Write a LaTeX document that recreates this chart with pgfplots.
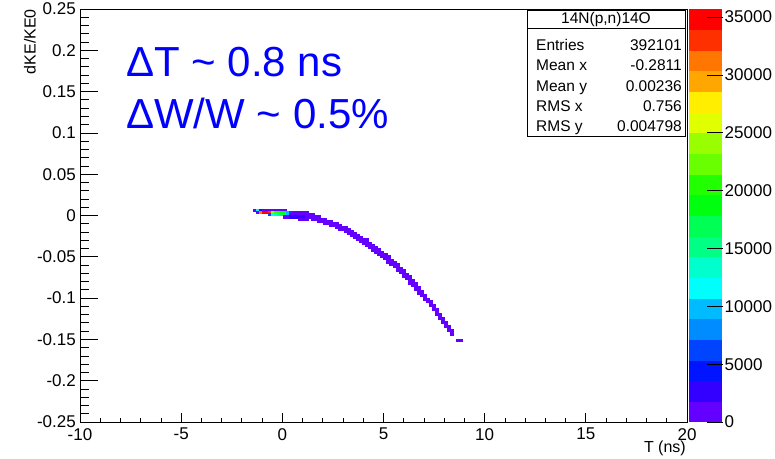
\documentclass[border=0pt]{standalone}
\usepackage{fontspec}
\setmainfont{Liberation Sans}
\usepackage{pgfplots}
\pgfplotsset{compat=1.18}

% ROOT pretty palette, 20 contours: hue = 280 - 5.6*(n+1), S=1, L=0.5
\definecolor{p0}{Hsb}{263.2,1,1}
\definecolor{p1}{Hsb}{252,1,1}
\definecolor{p2}{Hsb}{235.2,1,1}
\definecolor{p3}{Hsb}{224,1,1}
\definecolor{p4}{Hsb}{207.2,1,1}
\definecolor{p5}{Hsb}{196,1,1}
\definecolor{p6}{Hsb}{179.2,1,1}
\definecolor{p7}{Hsb}{168,1,1}
\definecolor{p8}{Hsb}{151.2,1,1}
\definecolor{p9}{Hsb}{140,1,1}
\definecolor{p10}{Hsb}{123.2,1,1}
\definecolor{p11}{Hsb}{112,1,1}
\definecolor{p12}{Hsb}{95.2,1,1}
\definecolor{p13}{Hsb}{84,1,1}
\definecolor{p14}{Hsb}{67.2,1,1}
\definecolor{p15}{Hsb}{56,1,1}
\definecolor{p16}{Hsb}{39.2,1,1}
\definecolor{p17}{Hsb}{28,1,1}
\definecolor{p18}{Hsb}{11.2,1,1}
\definecolor{p19}{Hsb}{0,1,1}

\pgfplotsset{
  rootaxis/.style={
    scale only axis, width=607pt, height=413pt,
    at={(80pt,36pt)}, anchor=south west,
    xmin=-10, xmax=20, ymin=-0.25, ymax=0.25,
    tick align=inside,
    /pgf/number format/assume math mode=true,
    ticklabel style={font=\fontsize{17}{20}\selectfont},
    every tick/.style={black, line width=0.8pt},
  },
}

\begin{document}
\begin{tikzpicture}
\useasboundingbox (0,0) rectangle (775pt,458pt);

\begin{axis}[rootaxis,
    axis line style={black, line width=0.9pt},
    xtick={-10,-5,0,5,10,15,20},
    xtick style={draw=none},
    xticklabel style={anchor=north, inner sep=0pt, yshift=-6pt},
    ytick={-0.25,-0.2,-0.15,-0.1,-0.05,0,0.05,0.1,0.15,0.2,0.25},
    minor y tick num=4,
    ytick pos=left,
    major tick length=18pt, minor tick length=9pt,
    scaled y ticks=false,
    yticklabel style={anchor=east, inner sep=0pt, xshift=-4pt,
      /pgf/number format/fixed, /pgf/number format/precision=2},
    colormap={rootpal}{color(0)=(p0) color(1)=(p1) color(2)=(p2) color(3)=(p3)
      color(4)=(p4) color(5)=(p5) color(6)=(p6) color(7)=(p7) color(8)=(p8)
      color(9)=(p9) color(10)=(p10) color(11)=(p11) color(12)=(p12)
      color(13)=(p13) color(14)=(p14) color(15)=(p15) color(16)=(p16)
      color(17)=(p17) color(18)=(p18) color(19)=(p19) color(20)=(p19)},
    colormap access=piecewise constant,
    point meta min=0, point meta max=35700,
    colorbar,
    colorbar shift/.style={xshift=1.5pt},
    colorbar style={
      at={(parent axis.north east)}, anchor=north west,
      scale only axis, width=34pt, height=413pt,
      axis line style={draw=none},
      ytick={0,5000,10000,15000,20000,25000,30000,35000},
      ytick pos=right, yticklabel pos=right, tick align=inside,
      major tick length=16pt,
      every tick/.style={black, line width=0.8pt},
      scaled y ticks=false,
      /pgf/number format/assume math mode=true,
      yticklabel style={anchor=west, inner sep=0pt, xshift=2pt,
        font=\fontsize{17}{20}\selectfont,
        /pgf/number format/fixed, /pgf/number format/precision=0,
        /pgf/number format/1000 sep={}},
    },
  ]
  \addplot[scatter, only marks, point meta=explicit,
    mark=square*, mark size=1.55pt,
    mark options={yscale=0.667},
    scatter/use mapped color={draw=mapped color, fill=mapped color, line width=0.1pt}]
  table[row sep=\\, x=x, y=y, meta=c] {
x y c\\
-1.375 0.00625 900\\
-1.225 0.00625 11610\\ -1.225 0.00375 900\\
-1.075 0.00625 4470\\ -1.075 0.00375 31245\\
-0.925 0.00625 900\\ -0.925 0.00375 35600\\
-0.775 0.00625 900\\ -0.775 0.00375 34815\\
-0.625 0.00625 900\\ -0.625 0.00375 33030\\ -0.625 0.00125 6255\\
-0.475 0.00625 900\\ -0.475 0.00375 24105\\ -0.475 0.00125 11610\\
-0.325 0.00625 900\\ -0.325 0.00375 20535\\ -0.325 0.00125 13395\\
-0.175 0.00625 900\\ -0.175 0.00375 20535\\ -0.175 0.00125 15180\\
-0.025 0.00625 900\\ -0.025 0.00375 18750\\ -0.025 0.00125 16965\\
0.125 0.00625 900\\ 0.125 0.00375 18750\\ 0.125 0.00125 16965\\ 0.125 -0.00125 900\\
0.275 0.00375 9825\\ 0.275 0.00125 9825\\ 0.275 -0.00125 900\\
0.425 0.00375 6255\\ 0.425 0.00125 900\\ 0.425 -0.00125 2685\\
0.575 0.00375 900\\ 0.575 0.00125 900\\ 0.575 -0.00125 2685\\
0.725 0.00375 900\\ 0.725 0.00125 900\\ 0.725 -0.00125 2685\\
0.875 0.00375 900\\ 0.875 0.00125 900\\ 0.875 -0.00125 2685\\ 0.875 -0.00375 900\\
1.025 0.00375 900\\ 1.025 0.00125 900\\ 1.025 -0.00125 2685\\ 1.025 -0.00375 900\\
1.175 0.00375 900\\ 1.175 0.00125 900\\ 1.175 -0.00125 900\\ 1.175 -0.00375 900\\
1.325 0.00125 900\\ 1.325 -0.00125 900\\
1.475 0.00125 900\\ 1.475 -0.00125 900\\ 1.475 -0.00375 900\\
1.625 -0.00125 900\\ 1.625 -0.00375 900\\
1.775 -0.00125 900\\ 1.775 -0.00375 900\\ 1.775 -0.00625 900\\
1.925 -0.00375 900\\ 1.925 -0.00625 900\\
2.075 -0.00375 900\\ 2.075 -0.00625 900\\ 2.075 -0.00875 900\\
2.225 -0.00625 900\\ 2.225 -0.00875 900\\
2.375 -0.00625 900\\ 2.375 -0.00875 900\\ 2.375 -0.01125 900\\
2.525 -0.00875 900\\ 2.525 -0.01125 900\\
2.675 -0.00875 900\\ 2.675 -0.01125 900\\ 2.675 -0.01375 900\\
2.825 -0.01125 900\\ 2.825 -0.01375 900\\ 2.825 -0.01625 900\\
2.975 -0.01375 900\\ 2.975 -0.01625 900\\
3.125 -0.01375 900\\ 3.125 -0.01625 900\\ 3.125 -0.01875 900\\
3.275 -0.01625 900\\ 3.275 -0.01875 900\\ 3.275 -0.02125 900\\
3.425 -0.01875 900\\ 3.425 -0.02125 900\\ 3.425 -0.02375 900\\
3.575 -0.02125 900\\ 3.575 -0.02375 900\\ 3.575 -0.02625 900\\
3.725 -0.02375 900\\ 3.725 -0.02625 900\\ 3.725 -0.02875 900\\
3.875 -0.02625 900\\ 3.875 -0.02875 900\\ 3.875 -0.03125 900\\
4.025 -0.02875 900\\ 4.025 -0.03125 900\\ 4.025 -0.03375 900\\
4.175 -0.02875 900\\ 4.175 -0.03125 900\\ 4.175 -0.03375 900\\ 4.175 -0.03625 900\\
4.325 -0.03375 900\\ 4.325 -0.03625 900\\ 4.325 -0.03875 900\\
4.475 -0.03625 900\\ 4.475 -0.03875 900\\ 4.475 -0.04125 900\\
4.625 -0.03875 900\\ 4.625 -0.04125 900\\ 4.625 -0.04375 900\\
4.775 -0.04125 900\\ 4.775 -0.04375 900\\ 4.775 -0.04625 900\\
4.925 -0.04375 900\\ 4.925 -0.04625 900\\ 4.925 -0.04875 900\\
5.075 -0.04625 900\\ 5.075 -0.04875 900\\ 5.075 -0.05125 900\\
5.225 -0.04875 900\\ 5.225 -0.05125 900\\ 5.225 -0.05375 900\\ 5.225 -0.05625 900\\
5.375 -0.05375 900\\ 5.375 -0.05625 900\\ 5.375 -0.05875 900\\
5.525 -0.05625 900\\ 5.525 -0.05875 900\\ 5.525 -0.06125 900\\
5.675 -0.05875 900\\ 5.675 -0.06125 900\\ 5.675 -0.06375 900\\ 5.675 -0.06625 900\\
5.825 -0.06375 900\\ 5.825 -0.06625 900\\ 5.825 -0.06875 900\\
5.975 -0.06625 900\\ 5.975 -0.06875 900\\ 5.975 -0.07125 900\\ 5.975 -0.07375 900\\
6.125 -0.07125 900\\ 6.125 -0.07375 900\\ 6.125 -0.07625 900\\
6.275 -0.07375 900\\ 6.275 -0.07625 900\\ 6.275 -0.07875 900\\ 6.275 -0.08125 900\\
6.425 -0.07875 900\\ 6.425 -0.08125 900\\ 6.425 -0.08375 900\\
6.575 -0.08125 900\\ 6.575 -0.08375 900\\ 6.575 -0.08625 900\\ 6.575 -0.08875 900\\
6.725 -0.08625 900\\ 6.725 -0.08875 900\\ 6.725 -0.09125 900\\ 6.725 -0.09375 900\\
6.875 -0.09125 900\\ 6.875 -0.09375 900\\ 6.875 -0.09625 900\\
7.025 -0.09625 900\\ 7.025 -0.09875 900\\ 7.025 -0.10125 900\\
7.175 -0.10125 900\\ 7.175 -0.10375 900\\
7.325 -0.10375 900\\ 7.325 -0.10625 900\\ 7.325 -0.10875 900\\
7.475 -0.10875 900\\ 7.475 -0.11125 900\\ 7.475 -0.11375 900\\
7.625 -0.11375 900\\ 7.625 -0.11625 900\\ 7.625 -0.11875 900\\
7.775 -0.11875 900\\ 7.775 -0.12125 900\\ 7.775 -0.12375 900\\
7.925 -0.12375 900\\ 7.925 -0.12625 900\\ 7.925 -0.12875 900\\
8.075 -0.12875 900\\ 8.075 -0.13125 900\\ 8.075 -0.13375 900\\
8.225 -0.13375 900\\ 8.225 -0.13625 900\\ 8.225 -0.13875 900\\
8.375 -0.13875 900\\ 8.375 -0.14125 900\\ 8.375 -0.14375 900\\
8.675 -0.15125 900\\
8.825 -0.15125 900\\
  };
\end{axis}

% x ticks (shorter than the y ticks, as ROOT draws them)
\begin{axis}[rootaxis,
    axis line style={draw=none},
    ytick=\empty,
    xtick={-10,-5,0,5,10,15,20},
    minor x tick num=4,
    xticklabels={},
    xtick pos=left,
    major tick length=9pt, minor tick length=4.5pt,
  ]
\end{axis}

% axis titles
\node[rotate=90, anchor=east, inner sep=0pt, font=\fontsize{16}{19}\selectfont]
  at (30pt,449pt) {dKE/KE0};
\node[anchor=base east, inner sep=0pt, font=\fontsize{16}{19}\selectfont]
  at (686pt,5.5pt) {T (ns)};

% annotations
\node[anchor=base west, inner sep=0pt, text=blue, font=\fontsize{42}{50}\selectfont]
  at (126pt,381pt) {ΔT \textasciitilde{} 0.8 ns};
\node[anchor=base west, inner sep=0pt, text=blue, font=\fontsize{42}{50}\selectfont]
  at (126pt,329pt) {ΔW/W \textasciitilde{} 0.5\%};

% stats box
\draw[black, line width=0.9pt, fill=white] (527pt,322pt) rectangle (685pt,448pt);
\draw[black, line width=0.9pt] (527pt,430pt) -- (685pt,430pt);
\begin{scope}[every node/.style={inner sep=0pt, font=\fontsize{15.5}{18}\selectfont}]
\node at (606pt,438.5pt) {14N(p,n)14O};
\node[anchor=base west] at (536pt,407.5pt) {Entries};
\node[anchor=base east] at (682pt,407.5pt) {392101};
\node[anchor=base west] at (536pt,387.2pt) {Mean x};
\node[anchor=base east] at (682pt,387.2pt) {-0.2811};
\node[anchor=base west] at (536pt,366.9pt) {Mean y};
\node[anchor=base east] at (682pt,366.9pt) {0.00236};
\node[anchor=base west] at (536pt,346.6pt) {RMS x};
\node[anchor=base east] at (682pt,346.6pt) {0.756};
\node[anchor=base west] at (536pt,326.3pt) {RMS y};
\node[anchor=base east] at (682pt,326.3pt) {0.004798};
\end{scope}
\end{tikzpicture}
\end{document}
